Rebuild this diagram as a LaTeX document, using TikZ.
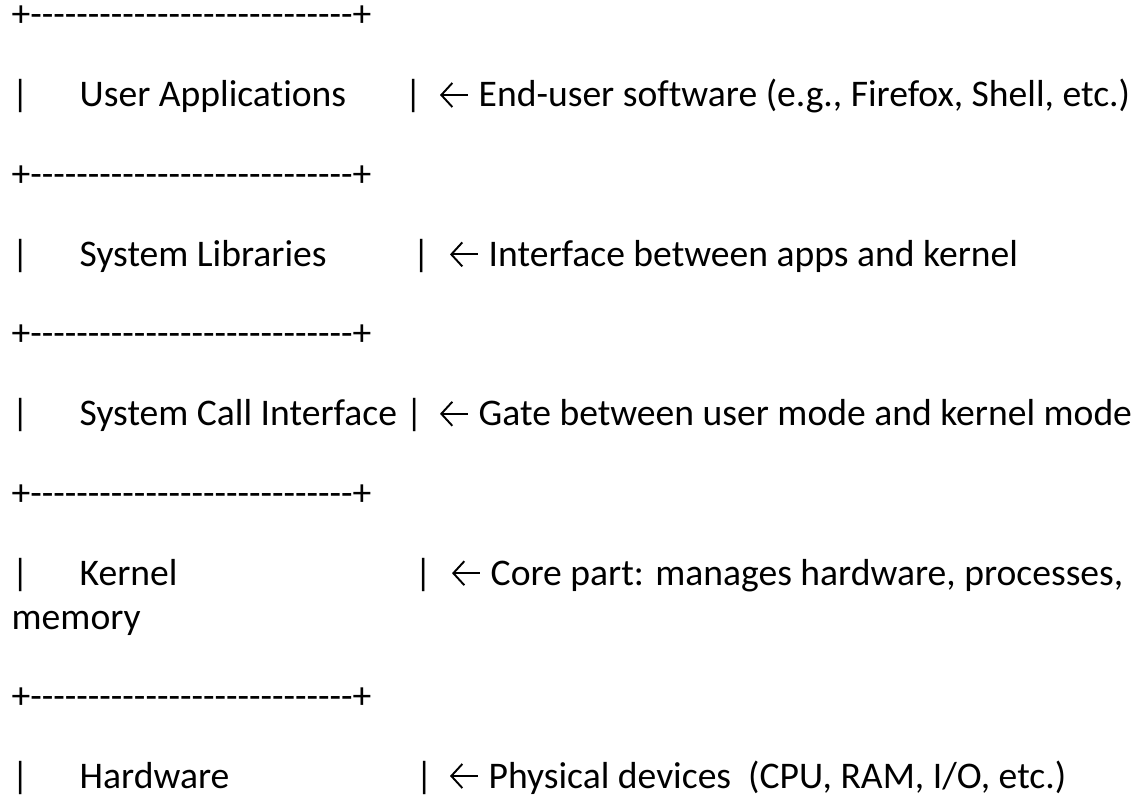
\documentclass[tikz,border=0pt]{standalone}
\usepackage{fontspec}
\usetikzlibrary{arrows.meta}
\newfontfamily\docfont{Carlito}[Ligatures=NoCommon]
\newcommand{\dashline}{+----------------------------+}
\tikzset{
  txt/.style={anchor=base west,inner sep=0pt,font=\docfont\fontsize{10.7}{12}\selectfont},
  notearrow/.style={line width=0.55pt,{Straight Barb[length=1.1mm,width=2.4mm]}-}
}
\begin{document}
\begin{tikzpicture}
\useasboundingbox (0,0) rectangle (11.38,-8);

\foreach \y/\n in {0.27/sepa,1.864/sepb,3.458/sepc,5.052/sepd,7.085/sepe}
{
    \node[txt] (\n) at (0.11,-\y) {\dashline};
}
\foreach \y/\n in {1.07/bara,2.664/barb,4.258/barc,5.852/bard,7.88/bare}
{
    \node[txt] (\n) at (0.11,-\y) {|};
}

\node[txt] (user) at (0.79,-1.07) {User Applications};
\node[txt] (libs) at (0.79,-2.664) {System Libraries};
\node[txt] (sci) at (0.79,-4.258) {System Call Interface};
\node[txt] (kernel) at (0.79,-5.852) {Kernel};
\node[txt] (hw) at (0.79,-7.88) {Hardware};

\node[txt] (userbar) at (4.04,-1.07) {|};
\node[txt] (libsbar) at (4.12,-2.664) {|};
\node[txt] (scibar) at (4.05,-4.258) {|};
\node[txt] (kernelbar) at (4.14,-5.852) {|};
\node[txt] (hwbar) at (4.15,-7.88) {|};

\node[txt] (usernote) at (4.78,-1.07) {End-user software (e.g., Firefox, Shell, etc.)};
\node[txt] (libsnote) at (4.88,-2.664) {Interface between apps and kernel};
\node[txt] (scinote) at (4.78,-4.258) {Gate between user mode and kernel mode};
\node[txt] (kernelnote) at (4.90,-5.852) {Core part: manages hardware, processes,};
\node[txt] (kernelmore) at (0.11,-6.29) {memory};
\node[txt] (hwnote) at (4.88,-7.88) {Physical devices\ \ (CPU, RAM, I/O, etc.)};

\foreach \n in {usernote,libsnote,scinote,kernelnote,hwnote}
{
    \draw[notearrow] ([shift={(-0.38,0.12)}]\n.base west) -- ([shift={(-0.10,0.12)}]\n.base west);
}

\end{tikzpicture}
\end{document}
